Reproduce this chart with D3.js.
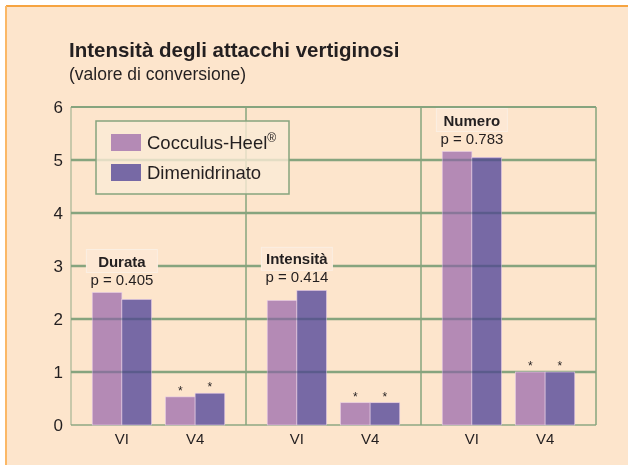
<!DOCTYPE html>
<html>
<head>
<meta charset="utf-8">
<script src="https://cdn.jsdelivr.net/npm/d3@7"></script>
<style>
  body { margin: 0; background: #fff; }
  text { font-family: "Liberation Sans", Arial, sans-serif; fill: #231f20; }
</style>
</head>
<body>
<div id="chart"></div>
<script>
// data
const panels = ["Durata", "Intensità", "Numero"];
const pValues = ["p = 0.405", "p = 0.414", "p = 0.783"];
const visits = ["VI", "V4"];
const series = ["Cocculus-Heel", "Dimenidrinato"];
const cocculus = [[2.50, 0.53], [2.35, 0.42], [5.16, 1.00]];
const dimen = [[2.37, 0.60], [2.54, 0.42], [5.05, 1.00]];
const starred = [[false, true], [false, true], [false, true]];
const yTicks = [0, 1, 2, 3, 4, 5, 6];

const width = 628, height = 465;
const margin = {top: 107, right: 32, bottom: 40, left: 71};
const colors = ["#b48ab5", "#7769a5"];
const gridCol = "#86a47e";

const rows = [];
panels.forEach((p, i) => visits.forEach((v, j) => series.forEach((s, k) => {
  rows.push({panel: p, visit: v, series: s, k: k,
    value: (k === 0 ? cocculus : dimen)[i][j], star: starred[i][j]});
})));

const svg = d3.select("#chart").append("svg")
  .attr("width", width)
  .attr("height", height);

// background card
svg.append("rect").attr("x", 6).attr("y", 6).attr("width", width - 6).attr("height", height - 6)
  .attr("fill", "#fde5cc");
svg.append("line").attr("x1", 6).attr("x2", width).attr("y1", 6).attr("y2", 6)
  .attr("stroke", "#f6a441").attr("stroke-width", 2);
svg.append("line").attr("x1", 6).attr("x2", 6).attr("y1", 6).attr("y2", height)
  .attr("stroke", "#fbb866").attr("stroke-width", 2);

const y = d3.scaleLinear().domain([0, 6]).range([height - margin.bottom, margin.top]);
const xPanel = d3.scaleBand().domain(panels).range([margin.left, width - margin.right]);
const xVisit = d3.scaleBand().domain(visits).range([0, xPanel.bandwidth()])
  .paddingInner(0.19).paddingOuter(0.29);
const xSeries = d3.scaleBand().domain(series).range([0, xVisit.bandwidth()]);

const x0 = xPanel.range()[0], x1 = xPanel.range()[1];

// title
svg.append("text").attr("x", 69).attr("y", 57)
  .style("font-size", "20.5px").style("font-weight", "bold")
  .text("Intensità degli attacchi vertiginosi");
svg.append("text").attr("x", 69).attr("y", 80)
  .style("font-size", "17.5px")
  .text("(valore di conversione)");

// grid
const grid = svg.append("g").attr("stroke", gridCol);
grid.selectAll("line.h").data(yTicks).join("line")
  .attr("x1", x0).attr("x2", x1)
  .attr("y1", d => y(d)).attr("y2", d => y(d))
  .attr("stroke-width", d => d === 0 || d === 6 ? 2 : 2.5)
  .attr("stroke-opacity", d => d === 0 ? 0.7 : 1);
grid.selectAll("line.v").data(panels.concat(["end"])).join("line")
  .attr("x1", d => d === "end" ? x1 : xPanel(d))
  .attr("x2", d => d === "end" ? x1 : xPanel(d))
  .attr("y1", y(0)).attr("y2", y(6))
  .attr("stroke-width", 1.5)
  .attr("stroke-opacity", (d, i) => i === 0 ? 0.6 : 1);

// y axis labels
svg.append("g").selectAll("text").data(yTicks).join("text")
  .attr("x", 63).attr("y", d => y(d)).attr("dy", "0.36em")
  .attr("text-anchor", "end").style("font-size", "17px")
  .text(d => d);

// bars
const barX = d => xPanel(d.panel) + xVisit(d.visit) + xSeries(d.series);
svg.append("g").selectAll("rect").data(rows).join("rect")
  .attr("x", barX)
  .attr("y", d => y(d.value))
  .attr("width", xSeries.bandwidth())
  .attr("height", d => y(0) - y(d.value))
  .attr("fill", d => colors[d.k])
  .attr("stroke", "#ead0e6").attr("stroke-width", 0.6);

// grid lines seen through the bars
const crossings = [];
rows.forEach(d => yTicks.filter(t => t > 0 && t < d.value).forEach(t => crossings.push({d: d, t: t})));
svg.append("g").selectAll("line").data(crossings).join("line")
  .attr("x1", c => barX(c.d)).attr("x2", c => barX(c.d) + xSeries.bandwidth())
  .attr("y1", c => y(c.t)).attr("y2", c => y(c.t))
  .attr("stroke", "#c2dcd8").attr("stroke-width", 2.5)
  .style("mix-blend-mode", "multiply");

// asterisks
svg.append("g").selectAll("text").data(rows.filter(d => d.star)).join("text")
  .attr("x", d => barX(d) + xSeries.bandwidth() / 2)
  .attr("y", d => y(d.value) - 2)
  .attr("text-anchor", "middle").style("font-size", "12px")
  .text("*");

// x labels
svg.append("g").selectAll("text").data(d3.cross(panels, visits)).join("text")
  .attr("x", d => xPanel(d[0]) + xVisit(d[1]) + xVisit.bandwidth() / 2)
  .attr("y", 444)
  .attr("text-anchor", "middle").style("font-size", "15px")
  .text(d => d[1]);

// panel labels
panels.forEach((p, i) => {
  const top = y(d3.max([cocculus[i][0], dimen[i][0]]));
  const cx = xPanel(p) + xVisit("VI") + xVisit.bandwidth() / 2;
  const g = svg.append("g");
  const box = g.append("rect");
  const t1 = g.append("text").attr("x", cx).attr("y", top - 26)
    .attr("text-anchor", "middle").style("font-size", "15px").style("font-weight", "bold")
    .text(p);
  const t2 = g.append("text").attr("x", cx).attr("y", top - 8)
    .attr("text-anchor", "middle").style("font-size", "15px")
    .text(pValues[i]);
  const b1 = t1.node().getBBox(), b2 = t2.node().getBBox();
  const bx = Math.min(b1.x, b2.x) - 4, bw = Math.max(b1.width, b2.width) + 8;
  box.attr("x", bx).attr("y", b1.y - 3).attr("width", bw).attr("height", b1.height + 6)
    .attr("fill", "#fde8d4").attr("stroke", "#fbefe2").attr("stroke-width", 1);
});

// legend
const leg = svg.append("g");
leg.append("rect").attr("x", 96).attr("y", 121).attr("width", 193).attr("height", 73)
  .attr("fill", "#faebd6").attr("fill-opacity", 0.8)
  .attr("stroke", gridCol).attr("stroke-width", 1.5);
series.forEach((s, i) => {
  leg.append("rect").attr("x", 111).attr("y", 134 + i * 30).attr("width", 30).attr("height", 17)
    .attr("fill", colors[i]);
  const t = leg.append("text").attr("x", 147).attr("y", 149 + i * 30)
    .style("font-size", "18.5px").text(s);
  if (i === 0) t.append("tspan").attr("dy", -7).style("font-size", "12px").text("®");
});
</script>
</body>
</html>
